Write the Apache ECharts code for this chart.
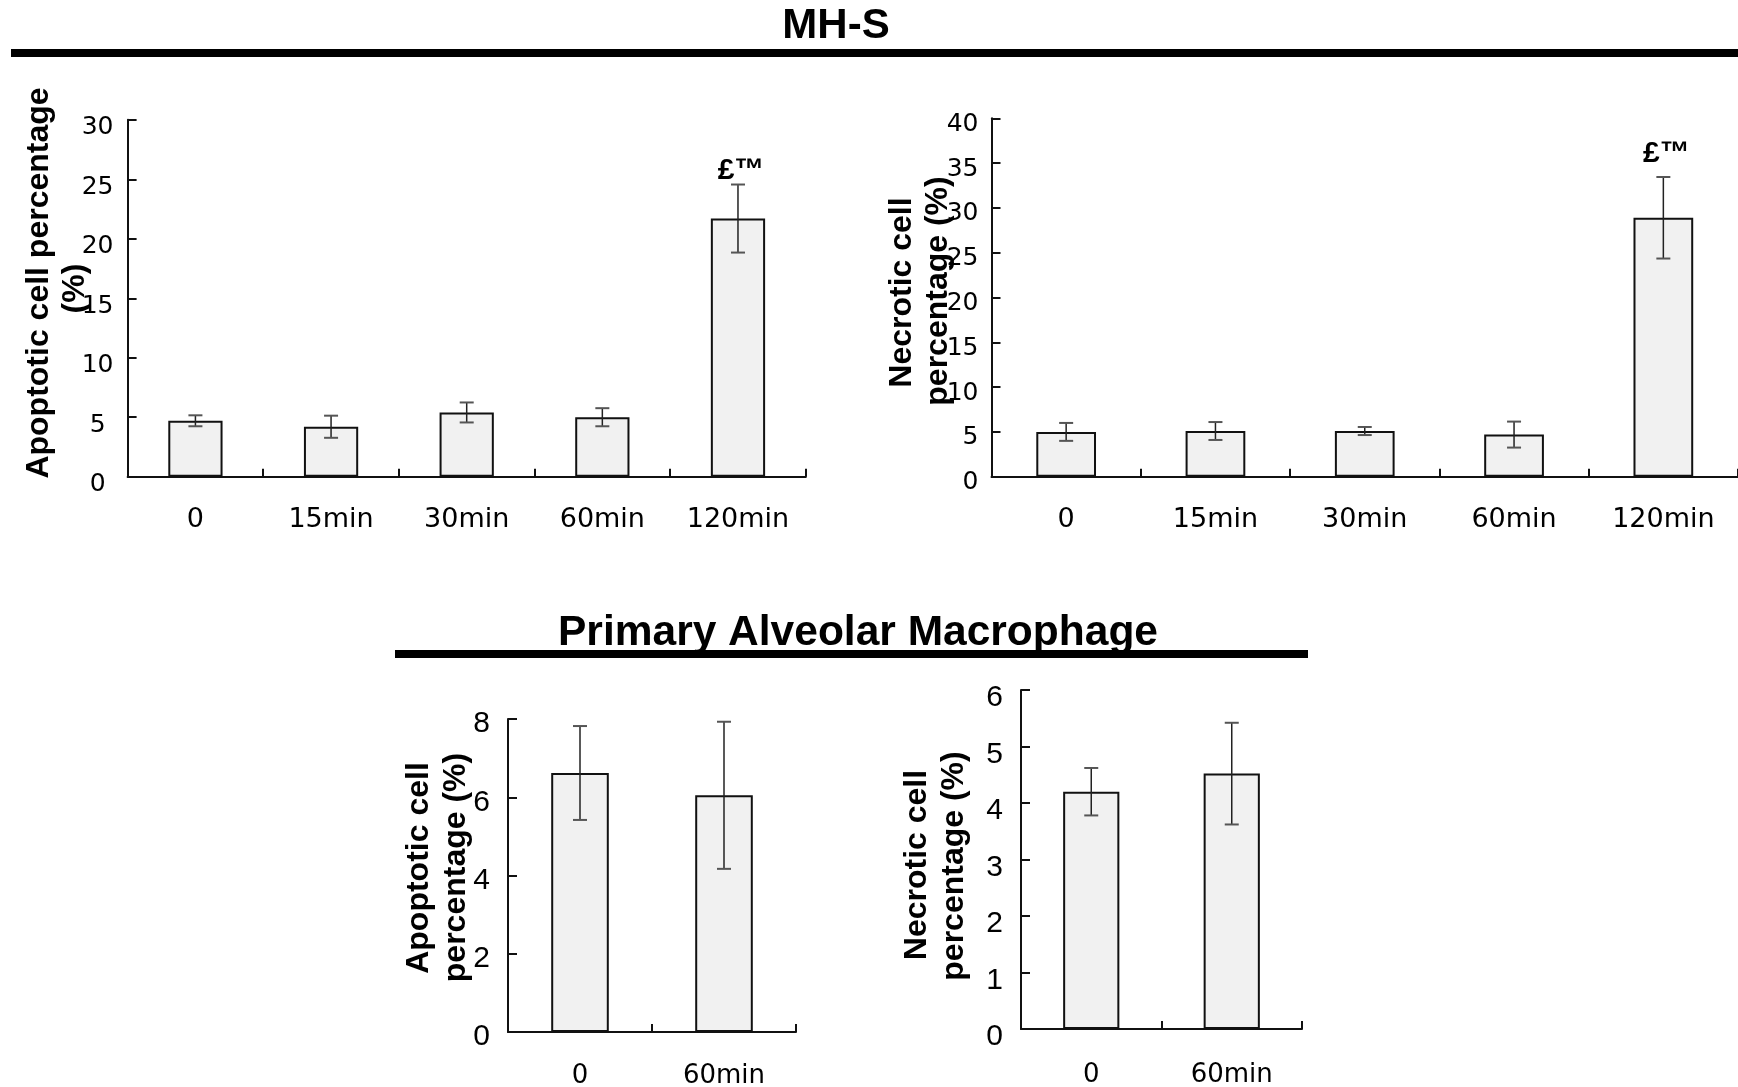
<!DOCTYPE html>
<html>
<head>
<meta charset="utf-8">
<script src="https://cdn.jsdelivr.net/npm/echarts@6/dist/echarts.min.js"></script>
<style>
html,body{margin:0;padding:0;background:#fff;}
#main{width:1738px;height:1087px;}
</style>
</head>
<body>
<div id="main"></div>
<script>
// ---- data ----
const catsMHS = ['0', '15min', '30min', '60min', '120min'];
const catsPAM = ['0', '60min'];
const apopMHS = [4.7, 4.2, 5.4, 5.0, 21.7];
const apopMHSErr = [0.46, 0.93, 0.84, 0.76, 2.86];
const necMHS = [5.0, 5.1, 5.1, 4.7, 28.9];
const necMHSErr = [1.0, 1.0, 0.45, 1.45, 4.55];
const apopPAM = [6.62, 6.05];
const apopPAMErr = [1.2, 1.88];
const necPAM = [4.2, 4.52];
const necPAMErr = [0.42, 0.9];
const sigApopMHS = ['', '', '', '', '£™'];
const sigNecMHS = ['', '', '', '', '£™'];
const yAxisApopMHS = {min: 0, max: 30, interval: 5};
const yAxisNecMHS = {min: 0, max: 40, interval: 5};
const yAxisApopPAM = {min: 0, max: 8, interval: 2};
const yAxisNecPAM = {min: 0, max: 6, interval: 1};
const mainTitle = 'MH-S';
const subTitle = 'Primary Alveolar Macrophage';

// ---- rendering ----
const chart = echarts.init(document.getElementById('main'), null, {renderer: 'canvas'});

const grids = [
  {left: 127.6, top: 119.8, width: 678.2, height: 356.9},
  {left: 991.5, top: 118.3, width: 746.5, height: 358.4},
  {left: 508, top: 719, width: 288, height: 313},
  {left: 1021, top: 690, width: 281, height: 339}
].map(g => Object.assign({outerBoundsMode: 'none', containLabel: false}, g));

function xAxis(gi, cats, margin, size) {
  return {
    type: 'category', gridIndex: gi, data: cats,
    axisLine: {show: true, lineStyle: {color: '#111', width: 2}},
    axisTick: {show: true, inside: true, length: 8, interval: 0, alignWithLabel: false, lineStyle: {color: '#111', width: 2}},
    axisLabel: {interval: 0, margin: margin, color: '#000', fontFamily: 'DejaVu Sans', fontSize: size},
    splitLine: {show: false}
  };
}
function yAxis(gi, rng, labelOpt) {
  return Object.assign({
    type: 'value', gridIndex: gi,
    axisLine: {show: true, lineStyle: {color: '#111', width: 2}},
    axisTick: {show: true, inside: true, length: 9, lineStyle: {color: '#111', width: 2}},
    axisLabel: labelOpt,
    splitLine: {show: false}
  }, rng);
}

function barSeries(gi, data) {
  return {
    type: 'bar', xAxisIndex: gi, yAxisIndex: gi, data: data, barWidth: '40%',
    itemStyle: {color: '#f1f1f1', borderColor: '#111', borderWidth: 2},
    silent: true, animation: false
  };
}
function errSeries(gi, vals, errs, sigs, gap) {
  return {
    type: 'custom', xAxisIndex: gi, yAxisIndex: gi, z: 5, animation: false, silent: true,
    data: vals.map((v, i) => [i, v, errs[i]]),
    renderItem: function (params, api) {
      const i = api.value(0), v = api.value(1), e = api.value(2);
      const top = api.coord([i, v + e]);
      const bot = api.coord([i, v - e]);
      const hw = 7;
      const ls = {stroke: '#222', lineWidth: 1.5};
      const ch = [
        {type: 'line', shape: {x1: top[0], y1: top[1], x2: bot[0], y2: bot[1]}, style: ls},
        {type: 'line', shape: {x1: top[0] - hw, y1: top[1], x2: top[0] + hw, y2: top[1]}, style: {stroke: '#555', lineWidth: 2}},
        {type: 'line', shape: {x1: bot[0] - hw, y1: bot[1], x2: bot[0] + hw, y2: bot[1]}, style: {stroke: '#555', lineWidth: 2}}
      ];
      const s = sigs ? sigs[params.dataIndex] : '';
      if (s) {
        ch.push({type: 'text', style: {text: s, x: top[0] + 3, y: top[1] - gap, align: 'center', verticalAlign: 'middle',
          font: 'bold 30px "Liberation Sans", Arial, sans-serif', fill: '#000'}});
      }
      return {type: 'group', children: ch};
    }
  };
}

const titleFont = 'bold 32px "Liberation Sans", Arial, sans-serif';
function vText(text, x, y) {
  return {type: 'text', x: x, y: y, rotation: Math.PI / 2, silent: true,
    style: {text: text, x: 0, y: 0, align: 'center', verticalAlign: 'middle', font: titleFont, fill: '#000'}};
}

const topLabel = {color: '#000', fontFamily: 'DejaVu Sans', fontSize: 25, verticalAlign: 'top'};
const botLabel = {color: '#000', fontFamily: 'Liberation Sans', fontSize: 30, verticalAlign: 'top'};

const option = {
  backgroundColor: '#fff',
  animation: false,
  grid: grids,
  xAxis: [xAxis(0, catsMHS, 30, 27), xAxis(1, catsMHS, 30, 27), xAxis(2, catsPAM, 31, 26), xAxis(3, catsPAM, 33, 26)],
  yAxis: [
    yAxis(0, yAxisApopMHS, Object.assign({margin: 30, align: 'center', lineHeight: 16}, topLabel)),
    yAxis(1, yAxisNecMHS, Object.assign({margin: 13, lineHeight: 12}, topLabel)),
    yAxis(2, yAxisApopPAM, Object.assign({margin: 18, lineHeight: 10}, botLabel)),
    yAxis(3, yAxisNecPAM, Object.assign({margin: 18, lineHeight: 16}, botLabel))
  ],
  series: [
    barSeries(0, apopMHS), errSeries(0, apopMHS, apopMHSErr, sigApopMHS, 14),
    barSeries(1, necMHS), errSeries(1, necMHS, necMHSErr, sigNecMHS, 23),
    barSeries(2, apopPAM), errSeries(2, apopPAM, apopPAMErr, null, 0),
    barSeries(3, necPAM), errSeries(3, necPAM, necPAMErr, null, 0)
  ],
  graphic: [
    {type: 'text', x: 836, y: 26, silent: true,
      style: {text: mainTitle, x: 0, y: 0, align: 'center', verticalAlign: 'middle', font: 'bold 42px "Liberation Sans", Arial, sans-serif', fill: '#000'}},
    {type: 'rect', silent: true, shape: {x: 11, y: 49, width: 1727, height: 8}, style: {fill: '#000'}},
    {type: 'text', x: 858, y: 633, silent: true,
      style: {text: subTitle, x: 0, y: 0, align: 'center', verticalAlign: 'middle', font: 'bold 42.5px "Liberation Sans", Arial, sans-serif', fill: '#000'}},
    {type: 'rect', silent: true, shape: {x: 395, y: 650, width: 913, height: 8}, style: {fill: '#000'}},
    vText('Apoptotic cell percentage', 39, 283),
    vText('(%)', 75.5, 288.5),
    vText('Necrotic cell', 902.5, 292.5),
    vText('percentage (%)', 938.5, 291),
    vText('Apoptotic cell', 419.5, 868),
    vText('percentage (%)', 456, 867.5),
    vText('Necrotic cell', 917, 865),
    vText('percentage (%)', 954.5, 866)
  ]
};
chart.setOption(option);
</script>
</body>
</html>
